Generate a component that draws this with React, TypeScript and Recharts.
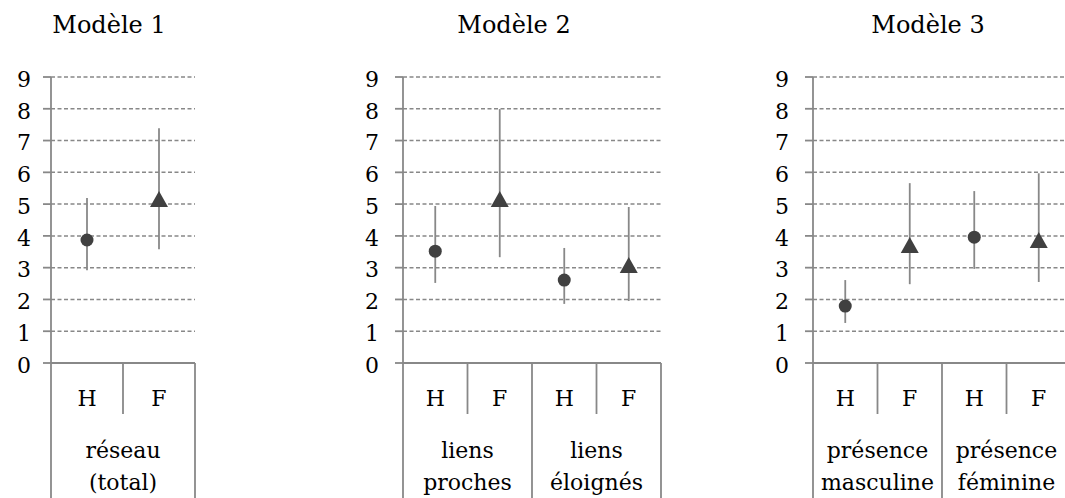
import { ComposedChart, Scatter, ErrorBar, XAxis, YAxis, CartesianGrid } from 'recharts'

const FONT = '"DejaVu Serif", serif'
const GREY = '#888888'
const MARK = '#404040'

const sexes = ['H', 'F']
const yTicks = [0, 1, 2, 3, 4, 5, 6, 7, 8, 9]

const titles = ['Modèle 1', 'Modèle 2', 'Modèle 3']

// Modèle 1
const m1Groups = [['réseau', '(total)']]
const m1Values = [3.87, 5.16]
const m1Low = [2.92, 3.58]
const m1High = [5.19, 7.39]

// Modèle 2
const m2Groups = [
  ['liens', 'proches'],
  ['liens', 'éloignés'],
]
const m2Values = [3.52, 5.16, 2.61, 3.08]
const m2Low = [2.52, 3.33, 1.86, 1.95]
const m2High = [4.94, 7.99, 3.62, 4.91]

// Modèle 3
const m3Groups = [
  ['présence', 'masculine'],
  ['présence', 'féminine'],
]
const m3Values = [1.79, 3.71, 3.96, 3.87]
const m3Low = [1.26, 2.48, 2.96, 2.55]
const m3High = [2.61, 5.66, 5.41, 5.97]

type Row = {
  key: string
  sex: string
  group: string[]
  last: boolean
  value: number
  err: [number, number]
}

const buildRows = (groups: string[][], values: number[], low: number[], high: number[]): Row[] => {
  const rows: Row[] = []
  groups.forEach((g, gi) => {
    sexes.forEach((s, si) => {
      const i = gi * sexes.length + si
      rows.push({
        key: `${gi}-${s}`,
        sex: s,
        group: g,
        last: i === groups.length * sexes.length - 1,
        value: values[i],
        err: [values[i] - low[i], high[i] - values[i]],
      })
    })
  })
  return rows
}

const panels = [
  { rows: buildRows(m1Groups, m1Values, m1Low, m1High), left: 0, width: 200, yWidth: 51, right: 5, tickMargin: 12 },
  { rows: buildRows(m2Groups, m2Values, m2Low, m2High), left: 340, width: 330, yWidth: 63, right: 9, tickMargin: 16 },
  { rows: buildRows(m3Groups, m3Values, m3Low, m3High), left: 750, width: 330, yWidth: 63, right: 9, tickMargin: 16 },
]

const titleCenters = [109, 514, 928]

const makeCategoryTick = (rows: Row[]) => (props: any) => {
  const { x, y, payload, width, visibleTicksCount } = props
  const row = rows.find((r) => r.key === payload.value)
  if (!row) return null
  const half = payload.offset || width / visibleTicksCount / 2
  const textStyle = { fontFamily: FONT, fontSize: 22, fill: '#000' }
  return (
    <g>
      <text x={x} y={y + 43} textAnchor='middle' style={textStyle}>
        {row.sex}
      </text>
      {row.sex === 'H' && (
        <>
          <line x1={x + half} x2={x + half} y1={y} y2={y + 51} stroke={GREY} strokeWidth={1.8} />
          <line x1={x - half} x2={x - half} y1={y} y2={y + 135} stroke={GREY} strokeWidth={1.8} />
          <text x={x + half} y={y + 95} textAnchor='middle' style={textStyle}>
            {row.group[0]}
          </text>
          <text x={x + half} y={y + 127} textAnchor='middle' style={textStyle}>
            {row.group[1]}
          </text>
        </>
      )}
      {row.last && <line x1={x + half} x2={x + half} y1={y} y2={y + 135} stroke={GREY} strokeWidth={1.8} />}
    </g>
  )
}

const Marker = (p: any) => {
  const { cx, cy, payload } = p
  if (payload.sex === 'H') return <circle cx={cx} cy={cy} r={6.5} fill={MARK} />
  return <polygon points={`${cx},${cy - 8} ${cx + 9},${cy + 8} ${cx - 9},${cy + 8}`} fill={MARK} />
}

function Panel({ rows, width, yWidth, right, tickMargin }: any) {
  return (
    <ComposedChart width={width} height={498} data={rows} margin={{ top: 77, right, left: 0, bottom: 0 }}>
      <CartesianGrid vertical={false} stroke={GREY} strokeDasharray='4 2.5' strokeWidth={1.5} />
      <XAxis
        dataKey='key'
        type='category'
        scale='band'
        height={135}
        stroke={GREY}
        strokeWidth={1.8}
        tickLine={false}
        tickSize={0}
        tickMargin={0}
        interval={0}
        tick={makeCategoryTick(rows)}
      />
      <YAxis
        dataKey='value'
        type='number'
        domain={[0, 9]}
        ticks={yTicks}
        width={yWidth}
        stroke={GREY}
        strokeWidth={1.8}
        tickSize={8}
        tickMargin={tickMargin}
        interval={0}
        tick={{ fontFamily: FONT, fontSize: 22, fill: '#000', dy: 2 }}
        allowDataOverflow
      />
      <Scatter data={rows} dataKey='value' shape={Marker} isAnimationActive={false}>
        <ErrorBar dataKey='err' direction='y' width={0} stroke={GREY} strokeWidth={1.8} />
      </Scatter>
    </ComposedChart>
  )
}

export default function App() {
  return (
    <div
      style={{
        position: 'absolute',
        left: 0,
        top: 0,
        width: 1065,
        height: 498,
        overflow: 'hidden',
        background: '#fff',
      }}
    >
      {titles.map((t, i) => (
        <div
          key={t}
          style={{
            position: 'absolute',
            left: titleCenters[i] - 100,
            top: 11,
            width: 200,
            textAlign: 'center',
            fontFamily: FONT,
            fontSize: 24,
            lineHeight: '28px',
          }}
        >
          {t}
        </div>
      ))}
      {panels.map((p, i) => (
        <div key={i} style={{ position: 'absolute', left: p.left, top: 0 }}>
          <Panel {...p} />
        </div>
      ))}
    </div>
  )
}
